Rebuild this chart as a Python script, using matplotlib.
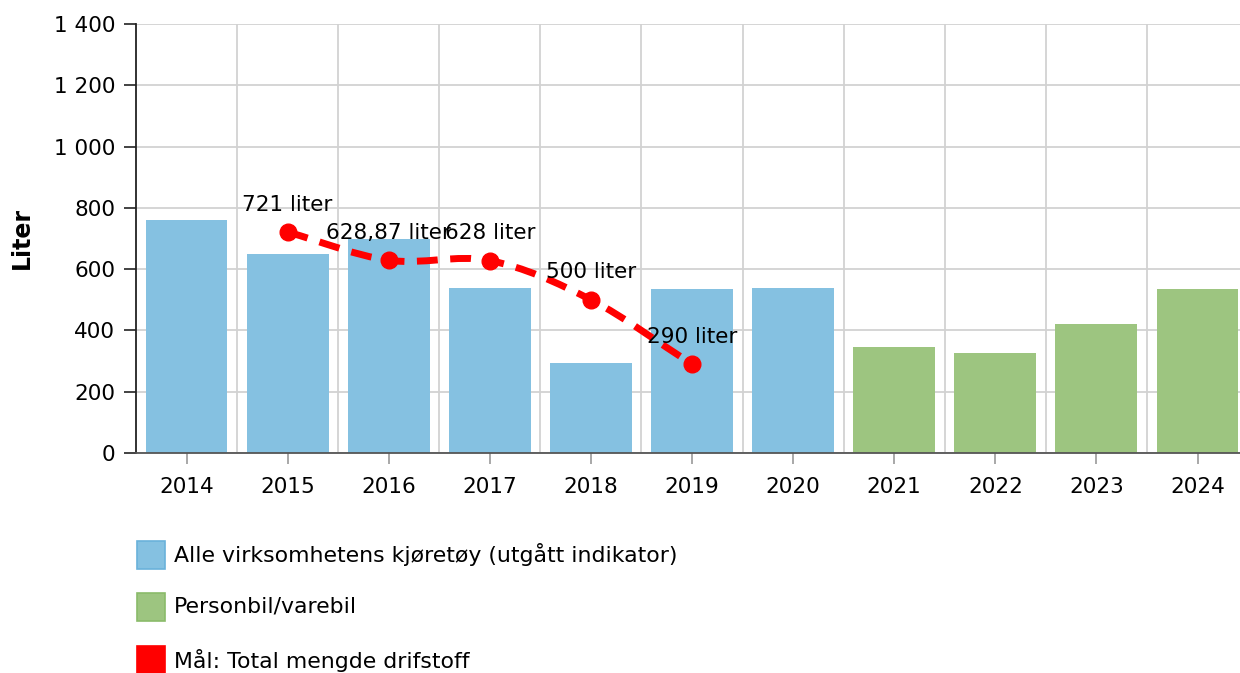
import matplotlib
matplotlib.use("Agg")
import matplotlib.pyplot as plt
from matplotlib.patches import Rectangle, PathPatch
from matplotlib.path import Path
from matplotlib.ticker import FuncFormatter, MultipleLocator
import numpy as np

years = ["2014", "2015", "2016", "2017", "2018", "2019", "2020", "2021", "2022", "2023", "2024"]
alle_vals = [760, 648, 700, 540, 295, 535, 540, None, None, None, None]
person_vals = [None, None, None, None, None, None, None, 345, 325, 420, 535]
goal_years = ["2015", "2016", "2017", "2018", "2019"]
goal_vals = [721, 628.87, 628, 500, 290]
goal_labels = ["721 liter", "628,87 liter", "628 liter", "500 liter", "290 liter"]

legend_labels = ["Alle virksomhetens kjøretøy (utgått indikator)", "Personbil/varebil", "Mål: Total mengde drifstoff"]

BLUE = "#85c1e1"
GREEN = "#9dc580"
RED = "#ff0000"

plt.rcParams['font.family'] = ['DejaVu Sans']

W, H = 1240, 673
fig = plt.figure(figsize=(W / 100, H / 100), dpi=100)
ax = fig.add_axes([136 / W, 1 - 453 / H, (1240 - 136) / W, (453 - 24) / H])

x = np.arange(len(years))
for i, v in enumerate(alle_vals):
    if v is not None:
        ax.bar(x[i], v, width=0.81, color=BLUE, zorder=2)
for i, v in enumerate(person_vals):
    if v is not None:
        ax.bar(x[i], v, width=0.81, color=GREEN, zorder=2)

# smooth goal line (cubic bezier through data points)
gx = np.array([years.index(y) for y in goal_years], dtype=float)
gy = np.array(goal_vals, dtype=float)
verts = [(gx[0], gy[0])]
codes = [Path.MOVETO]
n = len(gx)
def tangent(i):
    if i == 0:
        return (gy[1] - gy[0]) / (gx[1] - gx[0])
    if i == n - 1:
        return (gy[-1] - gy[-2]) / (gx[-1] - gx[-2])
    d1 = (gy[i] - gy[i - 1]) / (gx[i] - gx[i - 1])
    d2 = (gy[i + 1] - gy[i]) / (gx[i + 1] - gx[i])
    if d1 * d2 <= 0:
        return 0.0
    return (d1 + d2) / 2
for i in range(n - 1):
    h = (gx[i + 1] - gx[i]) / 3
    m0, m1 = tangent(i), tangent(i + 1)
    verts += [(gx[i] + h, gy[i] + m0 * h), (gx[i + 1] - h, gy[i + 1] - m1 * h), (gx[i + 1], gy[i + 1])]
    codes += [Path.CURVE4] * 3
patch = PathPatch(Path(verts, codes), facecolor="none", edgecolor=RED, lw=5,
                  linestyle=(0, (3.0, 1.8)), zorder=4, capstyle="butt")
ax.add_patch(patch)
ax.plot(gx, gy, "o", color=RED, markersize=12, zorder=5)
for xi, yi, lab in zip(gx, gy, goal_labels):
    ax.annotate(lab, (xi, yi), xytext=(0, 12.5), textcoords="offset points",
                ha="center", va="bottom", fontsize=15.5, color="black", zorder=6)

ax.set_xlim(-0.5, 10.42)
ax.set_ylim(0, 1400)
ax.yaxis.set_major_locator(MultipleLocator(200))
ax.yaxis.set_major_formatter(FuncFormatter(lambda v, p: f"{int(v):,}".replace(",", " ")))
ax.set_xticks(x)
ax.set_xticklabels(years)
ax.set_xticks(np.arange(0.5, 10.5, 1), minor=True)
ax.grid(True, axis="y", which="major", color="#d2d2d2", lw=1.3, zorder=0)
ax.grid(True, axis="x", which="minor", color="#d2d2d2", lw=1.3, zorder=0)
ax.tick_params(axis="x", which="minor", length=0)
ax.tick_params(axis="x", which="major", length=8, color="#999999", width=1.2, labelsize=15.5, pad=9)
ax.tick_params(axis="y", which="major", length=9, color="#222222", width=1.2, labelsize=15.5, pad=6)
for s in ["top", "right"]:
    ax.spines[s].set_visible(False)
ax.spines["left"].set_color("#222222")
ax.spines["left"].set_linewidth(1.3)
ax.spines["bottom"].set_color("#555555")
ax.spines["bottom"].set_linewidth(1.3)
ax.set_axisbelow(True)

fig.text(22 / W, 1 - 238 / H, "Liter", rotation=90, ha="center", va="center", fontsize=17, fontweight="bold")

# legend
leg_y = [555, 607, 660]
leg_fc = [BLUE, GREEN, RED]
leg_ec = ["#6ab2da", "#8abb6a", RED]
for yy, fc, ec, lab in zip(leg_y, leg_fc, leg_ec, legend_labels):
    fig.add_artist(Rectangle((137 / W, 1 - (yy + 14) / H), 28 / W, 28 / H, transform=fig.transFigure,
                             facecolor=fc, edgecolor=ec, lw=1.2))
    fig.text(174 / W, 1 - yy / H, lab, ha="left", va="center", fontsize=15.8)

fig.savefig("out.png", dpi=100)
